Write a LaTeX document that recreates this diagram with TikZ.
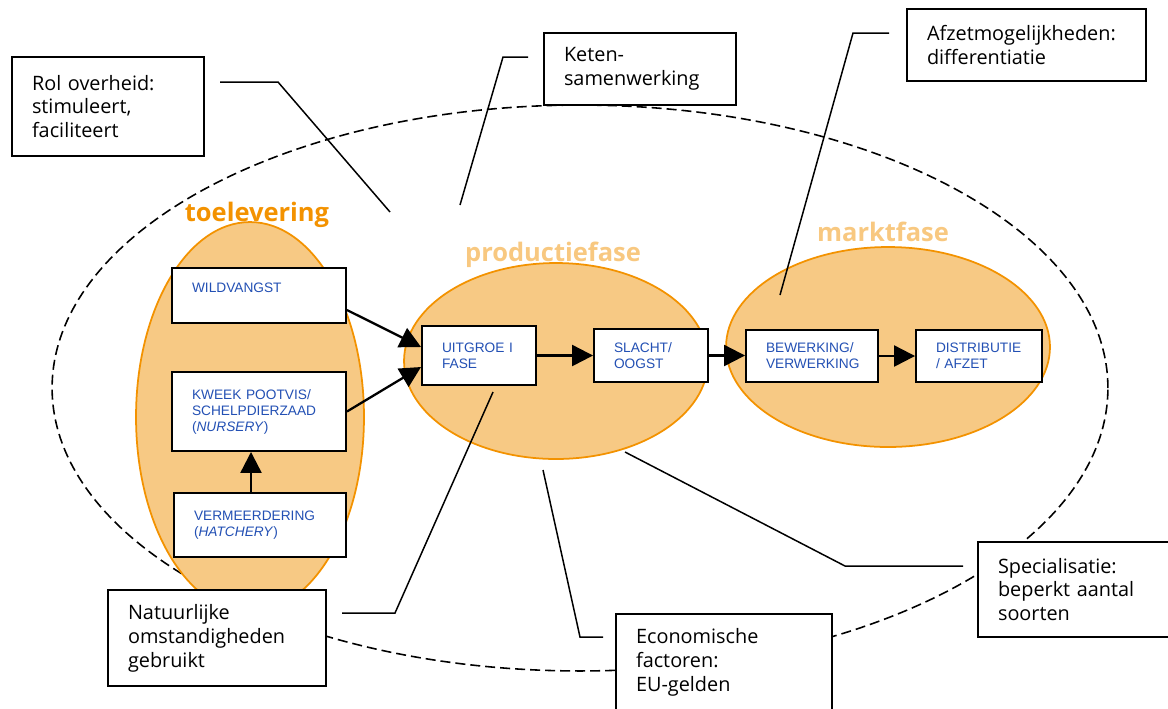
\documentclass[tikz,border=0pt]{standalone}
\usepackage{fontspec}
\usetikzlibrary{arrows.meta, shapes.geometric}

\newfontfamily\remarkfont{Open Sans}
\newfontfamily\stagefont{Liberation Sans}

\definecolor{phaseline}{RGB}{243,146,0}
\definecolor{phasefill}{RGB}{247,201,132}
\definecolor{phasetitle}{RGB}{248,200,128}
\definecolor{stageblue}{RGB}{35,80,180}

\begin{document}
\begin{tikzpicture}[
    x=0.02cm, y=-0.02cm,
    >={Triangle[length=0.42cm, width=0.42cm]},
    phase/.style={ellipse, draw=phaseline, fill=phasefill, line width=1pt, inner sep=0pt},
    phasename/.style={anchor=base, font=\remarkfont\bfseries\fontsize{14.5}{16}\selectfont},
    stage/.style={rectangle, draw, line width=1.1pt, fill=white, inner xsep=0.4cm, align=left,
        text=stageblue, font=\stagefont\fontsize{7.8}{9.1}\selectfont},
    remark/.style={rectangle, draw, line width=1.1pt, fill=white, inner xsep=0.4cm, align=left,
        font=\remarkfont\fontsize{11.3}{13.6}\selectfont},
    pointer/.style={line width=0.85pt},
    flow/.style={->, line width=1.3pt},
]

    \useasboundingbox (0, 0) rectangle (1168, 708);
    \clip (0, 0) rectangle (1168, 708);

    % the sector as a whole
    \node[ellipse, draw, dashed, dash pattern=on 0.2cm off 0.1cm, line width=0.9pt,
        minimum width=21.12cm, minimum height=11.32cm] (sector) at (580, 388) {};

    % the three phases
    \node[phase, minimum width=4.56cm, minimum height=7.8cm]  (supply)     at (250, 417) {};
    \node[phase, minimum width=6.08cm, minimum height=3.92cm] (production) at (556, 361) {};
    \node[phase, minimum width=6.48cm, minimum height=4cm]    (market)     at (888, 347) {};

    \node[phasename, text=phaseline]  (supply-t)     at (257, 221) {toelevering};
    \node[phasename, text=phasetitle] (production-t) at (553, 261) {productiefase};
    \node[phasename, text=phasetitle] (market-t)     at (883, 241) {marktfase};

    % pointers from the remarks
    \coordinate (gov-a) at (220, 82);   \coordinate (gov-b) at (278, 82);   \coordinate (gov-c) at (390, 212);
    \coordinate (chain-a) at (528, 57); \coordinate (chain-b) at (503, 57); \coordinate (chain-c) at (460, 205);
    \coordinate (sales-a) at (889, 33); \coordinate (sales-b) at (853, 33); \coordinate (sales-c) at (780, 295);
    \coordinate (nature-a) at (342, 613); \coordinate (nature-b) at (395, 613); \coordinate (nature-c) at (493, 392);
    \coordinate (money-a) at (603, 637); \coordinate (money-b) at (580, 637); \coordinate (money-c) at (543, 470);
    \coordinate (spec-a) at (963, 566); \coordinate (spec-b) at (845, 566); \coordinate (spec-c) at (625, 452);

    \draw[pointer] (gov-a) -- (gov-b) -- (gov-c);
    \draw[pointer] (chain-a) -- (chain-b) -- (chain-c);
    \draw[pointer] (sales-a) -- (sales-b) -- (sales-c);
    \draw[pointer] (nature-a) -- (nature-b) -- (nature-c);
    \draw[pointer] (money-a) -- (money-b) -- (money-c);
    \draw[pointer] (spec-a) -- (spec-b) -- (spec-c);

    % chain steps
    \node[stage, text width=2.68cm, minimum height=1.1cm]  (wild)    at (259, 295.5) {WILDVANGST\\~};
    \node[stage, text width=2.68cm, minimum height=1.58cm] (nursery) at (259, 411.5) {KWEEK POOTVIS/\\SCHELPDIERZAAD\\(\textit{NURSERY})};
    \node[stage, text width=2.64cm, minimum height=1.28cm] (hatch)   at (260, 525)   {VERMEERDERING\\(\textit{HATCHERY})};
    \node[stage, text width=1.48cm, minimum height=1.18cm] (growout) at (479, 355.5) {UITGROE I\\FASE};
    \node[stage, text width=1.48cm, minimum height=1.06cm] (harvest) at (651, 355.5) {SLACHT/\\OOGST};
    \node[stage, text width=1.84cm, minimum height=1.04cm] (process) at (812, 356)   {BEWERKING/\\VERWERKING};
    \node[stage, text width=1.72cm, minimum height=1.04cm] (distrib) at (979, 356)   {DISTRIBUTIE\\/ AFZET};

    \draw[flow] ([yshift=-0.29cm]wild.east) -- ([yshift=0.17cm]growout.west);
    \draw[flow] (nursery.east) -- ([yshift=-0.23cm]growout.west);
    \draw[flow] ([xshift=-0.18cm]hatch.north) -- ([xshift=-0.18cm]hatch.north |- nursery.south);
    \draw[flow] (growout.east) -- (growout.east -| harvest.west);
    \draw[flow] (harvest.east) -- (harvest.east -| process.west);
    \draw[flow] (process.east) -- (process.east -| distrib.west);

    % remarks
    \node[remark, text width=3.04cm, minimum height=1.98cm] (gov)    at (108, 106.5) {Rol overheid:\\stimuleert,\\faciliteert};
    \node[remark, text width=3.04cm, minimum height=1.44cm] (chain)  at (640, 69)    {Keten-\\samenwerking};
    \node[remark, text width=3.98cm, minimum height=1.44cm] (sales)  at (1026.5, 45) {Afzetmogelijkheden:\\differentiatie};
    \node[remark, text width=3.56cm, minimum height=1.92cm] (nature) at (217, 638)   {Natuurlijke\\omstandigheden\\gebruikt};
    \node[remark, text width=3.52cm, minimum height=1.92cm] (money)  at (724, 662)   {Economische\\factoren:\\EU-gelden};
    \node[remark, text width=3.2cm,  minimum height=1.9cm]  (spec)   at (1078, 589.5) {Specialisatie:\\beperkt aantal\\soorten};

\end{tikzpicture}
\end{document}
